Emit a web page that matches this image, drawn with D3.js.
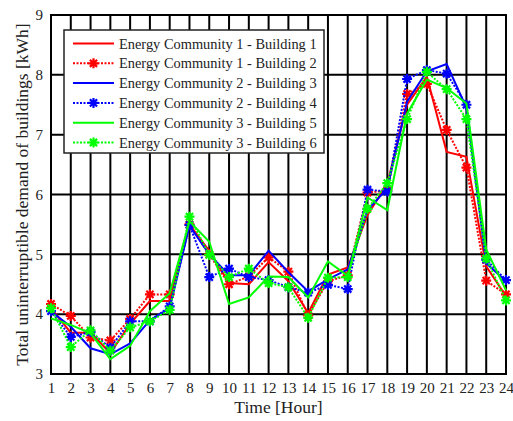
<!DOCTYPE html>
<html>
<head>
<meta charset="utf-8">
<script src="https://cdn.jsdelivr.net/npm/d3@7/dist/d3.min.js"></script>
<style>
  html, body { margin: 0; padding: 0; background: #fff; }
  svg { display: block; }
  text { font-family: "Liberation Serif", "Times New Roman", serif; fill: #222; }
</style>
</head>
<body>
<svg id="chart" width="513" height="421"></svg>
<script>
// Hourly demand per building [kWh]
const hours = d3.range(1, 25);
const yTicks = [3, 4, 5, 6, 7, 8, 9];

const ec1b1 = [4.10, 3.69, 3.69, 3.35, 3.84, 4.22, 4.22, 5.50, 5.06, 4.52, 4.50, 4.87, 4.55, 4.02, 4.66, 4.78, 5.66, 6.18, 7.50, 7.97, 6.71, 6.63, 4.80, 4.30];
const ec1b2 = [4.17, 3.97, 3.61, 3.56, 3.92, 4.33, 4.33, 5.50, 5.00, 4.50, 4.63, 4.95, 4.71, 3.98, 4.55, 4.65, 6.03, 6.07, 7.68, 7.85, 7.08, 6.45, 4.56, 4.33];
const ec2b3 = [4.05, 3.79, 3.43, 3.33, 3.51, 3.90, 4.10, 5.48, 5.00, 4.65, 4.65, 5.06, 4.70, 4.38, 4.58, 4.75, 5.74, 6.10, 7.55, 8.06, 8.18, 7.45, 4.85, 4.55];
const ec2b4 = [4.05, 3.62, 3.70, 3.44, 3.88, 3.88, 4.13, 5.49, 4.62, 4.76, 4.62, 4.57, 4.45, 4.36, 4.49, 4.42, 6.08, 6.05, 7.93, 8.08, 8.02, 7.50, 4.91, 4.57];
const ec3b5 = [3.93, 3.82, 3.68, 3.25, 3.47, 4.05, 4.35, 5.55, 5.21, 4.17, 4.28, 4.63, 4.62, 4.28, 4.88, 4.64, 5.95, 5.74, 7.35, 7.92, 7.78, 7.52, 5.08, 4.40];
const ec3b6 = [4.10, 3.45, 3.73, 3.39, 3.78, 3.88, 4.07, 5.63, 4.99, 4.62, 4.76, 4.52, 4.45, 3.94, 4.61, 4.62, 5.76, 6.19, 7.26, 8.05, 7.76, 7.26, 4.93, 4.23];

const seriesNames = [
  "Energy Community 1 - Building 1",
  "Energy Community 1 - Building 2",
  "Energy Community 2 - Building 3",
  "Energy Community 2 - Building 4",
  "Energy Community 3 - Building 5",
  "Energy Community 3 - Building 6"
];
const seriesValues = [ec1b1, ec1b2, ec2b3, ec2b4, ec3b5, ec3b6];
const seriesColors = ["#ff0000", "#ff0000", "#0000ff", "#0000ff", "#00ff00", "#00ff00"];
const seriesDotted = [false, true, false, true, false, true];

const svg = d3.select("#chart");
const margin = { left: 51, right: 7, top: 15, bottom: 47 };
const W = 513, H = 421;

const x = d3.scaleLinear().domain([1, 24]).range([margin.left, W - margin.right]);
const y = d3.scaleLinear().domain([3, 9]).range([H - margin.bottom, margin.top]);

// grid
const grid = svg.append("g");
grid.selectAll("line.v").data(hours).join("line")
  .attr("x1", d => x(d)).attr("x2", d => x(d))
  .attr("y1", y(3)).attr("y2", y(9))
  .attr("stroke", "#000").attr("stroke-width", 2);
grid.selectAll("line.h").data(yTicks).join("line")
  .attr("x1", x(1)).attr("x2", x(24))
  .attr("y1", d => y(d)).attr("y2", d => y(d))
  .attr("stroke", "#000").attr("stroke-width", 2);

// axes (labels only)
const xAxis = d3.axisBottom(x).tickValues(hours).tickSize(0).tickPadding(8).tickFormat(d3.format("d"));
const yAxis = d3.axisLeft(y).tickValues(yTicks).tickSize(0).tickPadding(8).tickFormat(d3.format("d"));
svg.append("g").attr("transform", `translate(0,${y(3)})`).call(xAxis)
  .call(g => g.select(".domain").remove())
  .selectAll("text").style("font-family", "Liberation Serif").style("font-size", "15px").attr("fill", "#222");
svg.append("g").attr("transform", `translate(${x(1)},0)`).call(yAxis)
  .call(g => g.select(".domain").remove())
  .selectAll("text").style("font-family", "Liberation Serif").style("font-size", "15px").attr("fill", "#222");

// frame
svg.append("rect")
  .attr("x", x(1)).attr("y", y(9))
  .attr("width", x(24) - x(1)).attr("height", y(3) - y(9))
  .attr("fill", "none").attr("stroke", "#000").attr("stroke-width", 2);

// axis titles
svg.append("text")
  .attr("x", (x(1) + x(24)) / 2).attr("y", 413)
  .attr("text-anchor", "middle").style("font-size", "17.5px")
  .text("Time [Hour]");
svg.append("text")
  .attr("transform", `translate(28,${(y(3) + y(9)) / 2}) rotate(-90)`)
  .attr("text-anchor", "middle").style("font-size", "17.5px")
  .text("Total uninterruptible demand of buildings [kWh]");

// asterisk marker
function asterisk(r) {
  const d = r * 0.72;
  return `M${-r},0L${r},0M0,${-r}L0,${r}M${-d},${-d}L${d},${d}M${-d},${d}L${d},${-d}`;
}

const line = d3.line().x((d, i) => x(hours[i])).y(d => y(d));
const plot = svg.append("g");
seriesValues.forEach((vals, k) => {
  const g = plot.append("g");
  g.append("path").datum(vals)
    .attr("d", line)
    .attr("fill", "none")
    .attr("stroke", seriesColors[k])
    .attr("stroke-width", 2)
    .attr("stroke-dasharray", seriesDotted[k] ? "2,1.5" : null)
    .attr("stroke-linejoin", "miter");
  if (seriesDotted[k]) {
    g.selectAll("path.m").data(vals).join("path")
      .attr("transform", (d, i) => `translate(${x(hours[i])},${y(d)})`)
      .attr("d", asterisk(5))
      .attr("fill", "none")
      .attr("stroke", seriesColors[k])
      .attr("stroke-width", 2.2);
  }
});

// legend
const lg = svg.append("g").attr("transform", "translate(64,30)");
lg.append("rect").attr("width", 260).attr("height", 123)
  .attr("fill", "#fff").attr("stroke", "#222").attr("stroke-width", 1.5);
seriesNames.forEach((name, k) => {
  const yy = 13.5 + k * 19.8;
  lg.append("line")
    .attr("x1", 9).attr("x2", 50).attr("y1", yy).attr("y2", yy)
    .attr("stroke", seriesColors[k]).attr("stroke-width", 2)
    .attr("stroke-dasharray", seriesDotted[k] ? "2,1.5" : null);
  if (seriesDotted[k]) {
    lg.append("path").attr("transform", `translate(29.5,${yy})`)
      .attr("d", asterisk(5)).attr("fill", "none")
      .attr("stroke", seriesColors[k]).attr("stroke-width", 2.2);
  }
  lg.append("text").attr("x", 55).attr("y", yy + 5)
    .style("font-size", "14.4px").text(name);
});
</script>
</body>
</html>
